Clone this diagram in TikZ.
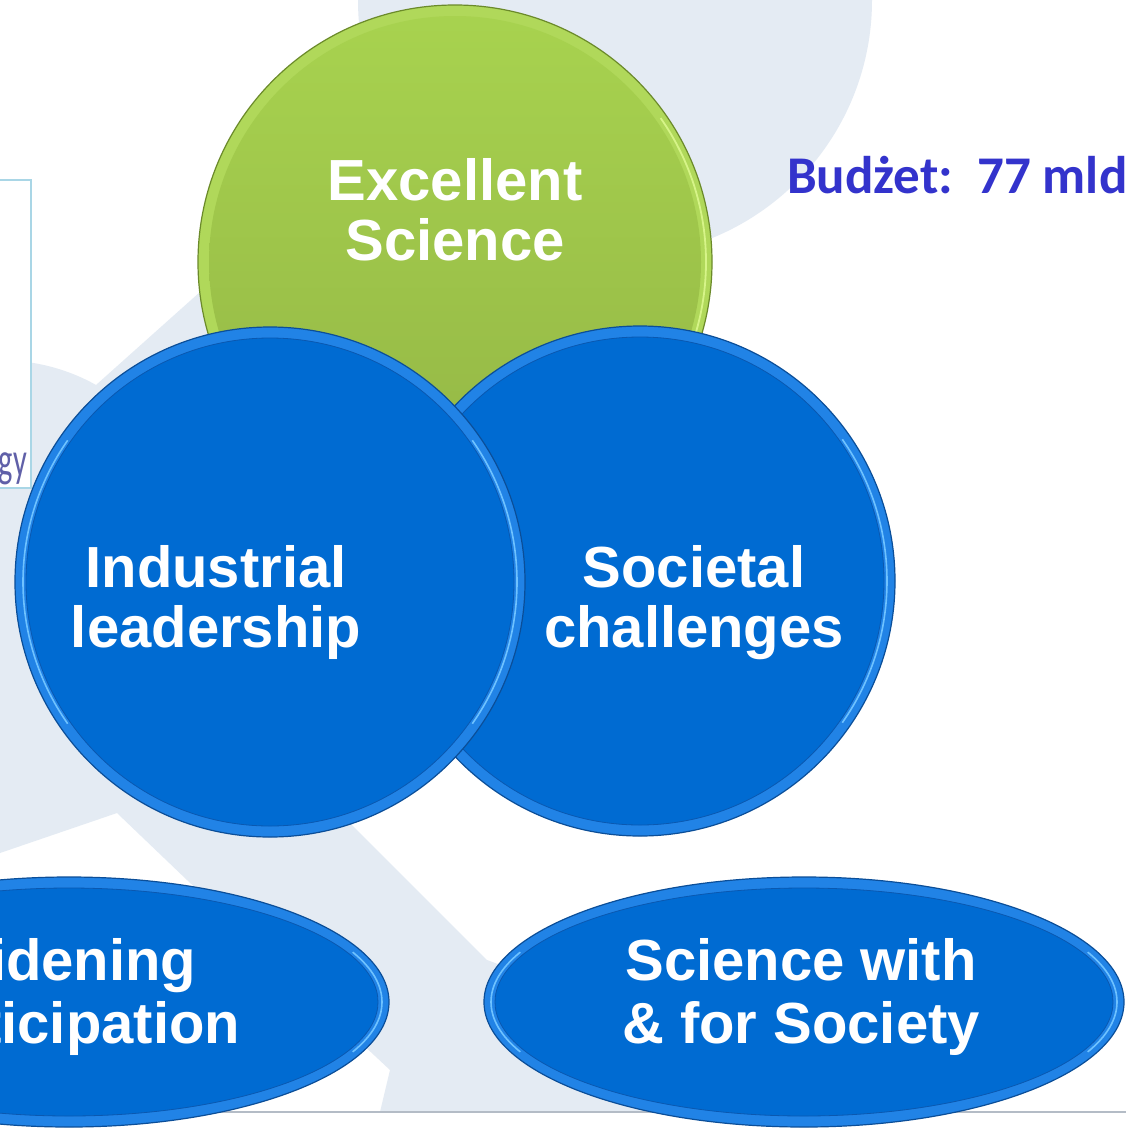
\documentclass[tikz,border=0pt]{standalone}
\usepackage{fontspec}
\setmainfont{Liberation Sans}
\newfontfamily\carlito{Carlito}
\usetikzlibrary{shapes.geometric}
\definecolor{bgl}{HTML}{E4EBF3}
\definecolor{bmain}{HTML}{006BD2}
\definecolor{bring}{HTML}{2183E6}
\definecolor{bdark}{HTML}{0B4E98}
\definecolor{binner}{HTML}{0A58B0}
\definecolor{bhl}{HTML}{6EC2FF}
\definecolor{gtop}{HTML}{A8D34F}
\definecolor{gbot}{HTML}{93B545}
\definecolor{gring}{HTML}{B0D85A}
\definecolor{gdark}{HTML}{6B8A2A}
\definecolor{ghl}{HTML}{D6F488}
\definecolor{budz}{HTML}{3333CC}
\definecolor{framec}{HTML}{A9D6E6}
\definecolor{gytext}{HTML}{6060A8}
\definecolor{rulec}{HTML}{B4BCC6}
\begin{document}
\begin{tikzpicture}[x=1pt,y=-1pt,
  bluecirc/.style={circle, minimum size=510pt, inner sep=0pt, fill=bring, draw=bdark, line width=1.2pt,
    path picture={
      \fill[bmain] (path picture bounding box.center) circle (244pt);
      \draw[binner, line width=0.8pt] (path picture bounding box.center) circle (244pt);
      \draw[bhl, line width=1.6pt] ([shift={(-35:247pt)}]path picture bounding box.center) arc[start angle=-35,end angle=35,radius=247pt];
      \draw[bhl, line width=1.6pt] ([shift={(145:247pt)}]path picture bounding box.center) arc[start angle=145,end angle=215,radius=247pt];
    }},
  greencirc/.style={circle, minimum size=514pt, inner sep=0pt, fill=gring, draw=gdark, line width=1.2pt,
    path picture={
      \shade[top color=gtop, bottom color=gbot] (path picture bounding box.center) circle (246pt);
      \draw[ghl, line width=1.8pt] ([shift={(-35:251pt)}]path picture bounding box.center) arc[start angle=-35,end angle=35,radius=251pt];
    }},
  blueell/.style={ellipse, minimum width=640pt, minimum height=250pt, inner sep=0pt, fill=bring, draw=bdark, line width=1.2pt,
    path picture={
      \fill[bmain] (path picture bounding box.center) ellipse [x radius=309pt, y radius=114pt];
      \draw[binner, line width=0.8pt] (path picture bounding box.center) ellipse [x radius=309pt, y radius=114pt];
      \draw[bhl, line width=1.6pt] ([shift={(-25:313pt and 118pt)}]path picture bounding box.center) arc[start angle=-25,end angle=25,x radius=313pt, y radius=118pt];
      \draw[bhl, line width=1.6pt] ([shift={(155:313pt and 118pt)}]path picture bounding box.center) arc[start angle=155,end angle=205,x radius=313pt, y radius=118pt];
    }},
  lbl/.style={text=white, font=\fontsize{58}{60}\selectfont\bfseries, anchor=base, inner sep=0pt}
]
\clip (0,0) rectangle (1126,1133);
\fill[white] (0,0) rectangle (1126,1133);
% faded background logo
\fill[bgl] (615,0) circle (257pt);
\fill[bgl] (0,362) .. controls (30,358) and (70,370) .. (96,385) -- (200,292) -- (320,190) -- (420,420)
  -- (300,773) -- (357,830) -- (487,960) -- (900,1112) -- (380,1112) -- (390,1070) -- (187,880)
  -- (117,813) -- (0,853) -- cycle;
\fill[white] (0,1113) rectangle (1126,1133);
\draw[rulec, line width=1.5pt] (0,1112) -- (1126,1112);
% left frame
\draw[framec, line width=1.2pt, fill=white] (-3,180) rectangle (31,488);
\node[anchor=base east, inner sep=0pt, text=gytext, font=\carlito\fontsize{49}{52}\selectfont, xscale=0.62] (gy) at (27,476) {gy};
% circles
\node[greencirc] (exc) at (455,262) {};
\node[bluecirc] (soc) at (640,581) {};
\node[bluecirc] (ind) at (270,582) {};
% ellipses
\node[blueell] (wid) at (69,1002) {};
\node[blueell] (swf) at (804,1002) {};
% labels
\node[lbl] (exc1) at (455,200) {Excellent};
\node[lbl] (exc2) at (455,260) {Science};
\node[lbl] (ind1) at (216,587) {Industrial};
\node[lbl] (ind2) at (216,647) {leadership};
\node[lbl] (soc1) at (694,587) {Societal};
\node[lbl] (soc2) at (694,647) {challenges};
\node[lbl] (wid1) at (66,980) {Widening};
\node[lbl] (wid2) at (66,1043) {participation};
\node[lbl] (swf1) at (801,980) {Science with};
\node[lbl] (swf2) at (801,1043) {\& for Society};
\node[anchor=base west, inner sep=0pt, text=budz, font=\carlito\fontsize{53}{60}\selectfont\bfseries] (budzet) at (787,193) {Budżet:~~77 mld};
\end{tikzpicture}
\end{document}
